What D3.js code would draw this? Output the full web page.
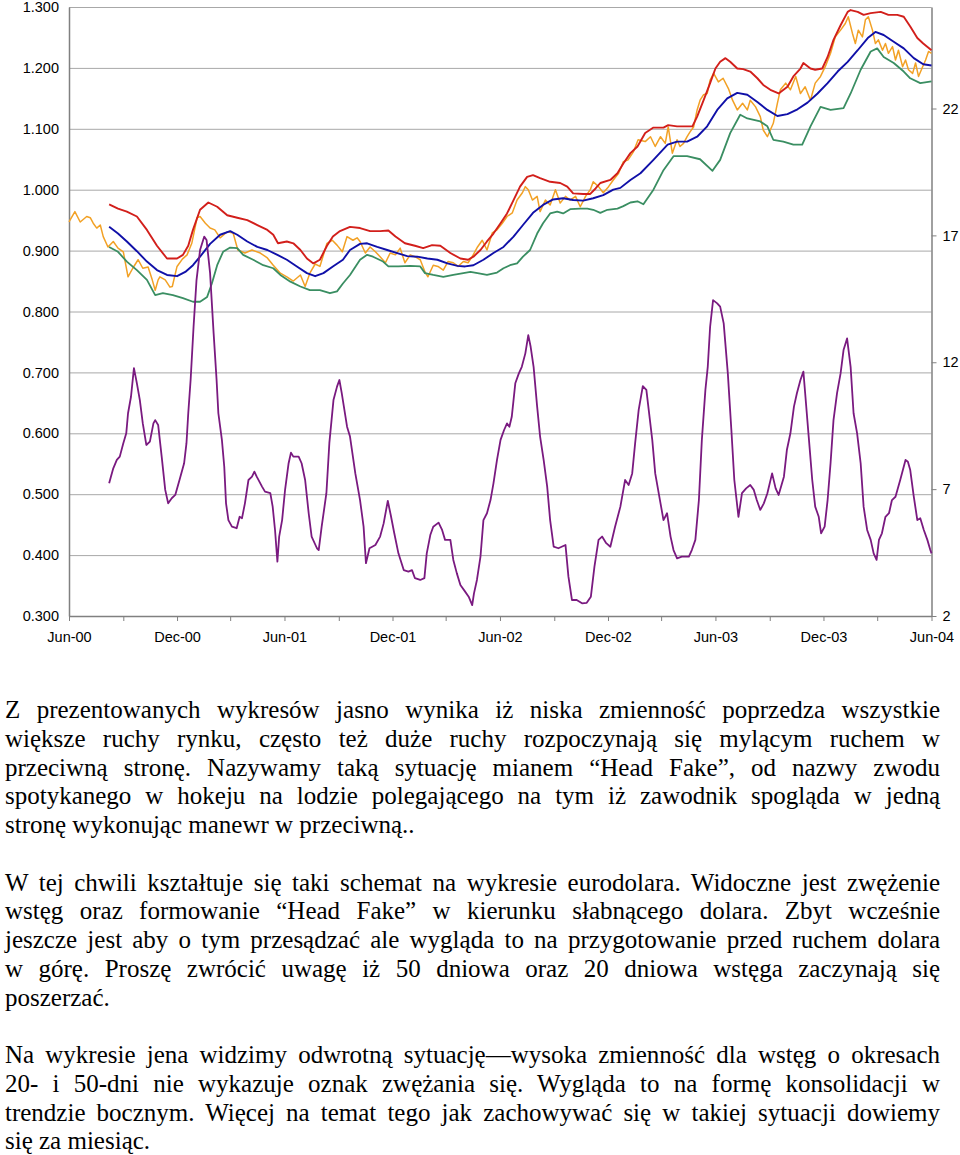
<!DOCTYPE html>
<html><head><meta charset="utf-8">
<script src="https://cdn.jsdelivr.net/npm/d3@7"></script>
<style>
body{margin:0;background:#fff;width:960px;height:1155px;overflow:hidden;position:relative;}
svg{position:absolute;left:0;top:0;}
.ln{position:absolute;left:5px;font-family:"Liberation Serif","Times New Roman",serif;font-size:25px;line-height:28.75px;color:#000;white-space:nowrap;}
</style></head><body>
<svg id="chart" width="960" height="660"></svg>
<div id="txt"></div>
<script>
// ---------- DATA ----------
const startDate = new Date(2000, 5, 1);
const endDate = new Date(2004, 5, 1);
const xTickLabels = ["Jun-00","Dec-00","Jun-01","Dec-01","Jun-02","Dec-02","Jun-03","Dec-03","Jun-04"];
const leftTicks = [0.3,0.4,0.5,0.6,0.7,0.8,0.9,1.0,1.1,1.2,1.3];
const rightTicks = [2,7,12,17,22];

// [days since 1 Jun 2000, value]
const eurusd = [[0,0.947],[10,0.964],[19,0.947],[30,0.956],[36,0.954],[41,0.945],[47,0.937],[53,0.942],[58,0.923],[66,0.906],[75,0.915],[83,0.904],[92,0.898],[100,0.857],[108,0.871],[117,0.885],[125,0.871],[134,0.873],[141,0.852],[146,0.835],[151,0.852],[154,0.857],[163,0.852],[171,0.840],[175,0.841],[183,0.874],[192,0.886],[200,0.893],[208,0.912],[217,0.954],[222,0.956],[231,0.945],[239,0.937],[247,0.934],[256,0.921],[268,0.931],[278,0.929],[286,0.901],[298,0.896],[310,0.901],[324,0.896],[336,0.888],[346,0.876],[358,0.863],[369,0.857],[380,0.850],[392,0.860],[400,0.841],[408,0.863],[417,0.878],[425,0.874],[437,0.912],[446,0.917],[454,0.909],[463,0.898],[471,0.923],[481,0.917],[488,0.921],[493,0.915],[502,0.896],[510,0.906],[519,0.898],[527,0.890],[536,0.880],[544,0.896],[553,0.893],[561,0.904],[569,0.880],[578,0.893],[586,0.890],[595,0.885],[603,0.865],[608,0.857],[617,0.876],[625,0.874],[634,0.868],[642,0.882],[651,0.880],[659,0.874],[668,0.882],[676,0.880],[683,0.890],[692,0.906],[700,0.917],[708,0.901],[717,0.929],[725,0.934],[734,0.945],[742,0.956],[751,0.962],[759,0.983],[768,0.995],[773,1.005],[778,1.000],[785,0.983],[793,0.989],[798,0.964],[807,0.983],[815,0.975],[824,1.000],[832,0.978],[841,0.989],[849,0.983],[858,0.989],[866,0.972],[875,0.989],[883,1.000],[888,1.013],[897,1.005],[905,0.995],[914,1.005],[922,1.016],[931,1.027],[939,1.046],[947,1.049],[956,1.062],[964,1.082],[976,1.079],[985,1.087],[993,1.071],[1002,1.087],[1010,1.076],[1015,1.103],[1022,1.060],[1030,1.082],[1035,1.071],[1041,1.076],[1047,1.087],[1052,1.095],[1058,1.103],[1064,1.131],[1069,1.147],[1075,1.156],[1081,1.158],[1086,1.180],[1092,1.191],[1100,1.177],[1108,1.183],[1117,1.166],[1124,1.147],[1132,1.131],[1141,1.142],[1149,1.131],[1154,1.147],[1163,1.136],[1171,1.120],[1176,1.098],[1183,1.087],[1188,1.098],[1193,1.109],[1200,1.142],[1205,1.164],[1214,1.175],[1222,1.164],[1231,1.186],[1239,1.158],[1247,1.169],[1256,1.147],[1264,1.175],[1273,1.186],[1281,1.202],[1290,1.224],[1298,1.251],[1307,1.262],[1315,1.273],[1320,1.284],[1327,1.257],[1332,1.240],[1337,1.262],[1344,1.251],[1349,1.279],[1354,1.284],[1361,1.262],[1366,1.240],[1371,1.246],[1378,1.229],[1383,1.240],[1388,1.224],[1395,1.235],[1400,1.213],[1405,1.229],[1412,1.202],[1417,1.213],[1422,1.197],[1429,1.191],[1434,1.208],[1439,1.186],[1446,1.202],[1451,1.213],[1456,1.227],[1461,1.224]];

const upperBand = [[68,0.976],[83,0.969],[98,0.964],[115,0.956],[132,0.934],[149,0.908],[166,0.887],[183,0.887],[193,0.893],[202,0.908],[210,0.934],[222,0.967],[236,0.979],[251,0.972],[268,0.958],[285,0.954],[302,0.950],[319,0.942],[336,0.934],[346,0.926],[354,0.912],[369,0.915],[380,0.912],[392,0.901],[403,0.887],[414,0.879],[425,0.885],[437,0.908],[447,0.923],[459,0.932],[476,0.939],[493,0.937],[510,0.932],[527,0.932],[541,0.933],[553,0.923],[569,0.912],[586,0.908],[600,0.904],[615,0.909],[629,0.908],[646,0.896],[663,0.887],[676,0.885],[685,0.890],[697,0.901],[708,0.915],[719,0.928],[731,0.945],[742,0.961],[753,0.983],[764,1.005],[776,1.021],[786,1.024],[798,1.019],[815,1.013],[832,1.011],[844,1.005],[854,0.994],[871,0.993],[883,0.993],[892,1.002],[900,1.011],[917,1.016],[929,1.027],[939,1.043],[951,1.060],[963,1.071],[976,1.093],[990,1.102],[1007,1.102],[1015,1.106],[1030,1.104],[1056,1.104],[1064,1.120],[1075,1.147],[1086,1.175],[1095,1.199],[1103,1.210],[1112,1.216],[1120,1.210],[1132,1.199],[1142,1.198],[1154,1.194],[1166,1.183],[1176,1.172],[1188,1.164],[1202,1.158],[1217,1.169],[1227,1.186],[1239,1.199],[1244,1.208],[1256,1.199],[1264,1.197],[1276,1.199],[1285,1.218],[1295,1.246],[1307,1.270],[1319,1.292],[1324,1.295],[1336,1.292],[1346,1.287],[1358,1.290],[1375,1.292],[1388,1.287],[1403,1.287],[1414,1.284],[1425,1.268],[1437,1.249],[1447,1.240],[1461,1.229]];

const middleBand = [[68,0.939],[83,0.928],[98,0.915],[115,0.899],[132,0.882],[149,0.868],[166,0.860],[183,0.858],[197,0.865],[210,0.876],[222,0.890],[239,0.911],[256,0.926],[273,0.932],[285,0.926],[302,0.915],[319,0.906],[336,0.901],[353,0.893],[369,0.885],[386,0.874],[403,0.863],[417,0.858],[431,0.863],[447,0.874],[464,0.885],[476,0.901],[493,0.911],[505,0.912],[522,0.906],[539,0.901],[556,0.896],[573,0.891],[590,0.890],[607,0.887],[624,0.885],[641,0.879],[658,0.875],[671,0.874],[685,0.876],[702,0.885],[719,0.896],[736,0.906],[753,0.923],[769,0.942],[786,0.962],[803,0.975],[820,0.984],[837,0.986],[854,0.983],[871,0.982],[888,0.986],[905,0.991],[922,1.000],[934,1.003],[951,1.016],[968,1.027],[990,1.049],[1014,1.074],[1030,1.079],[1047,1.079],[1064,1.087],[1081,1.104],[1098,1.131],[1115,1.150],[1132,1.159],[1149,1.156],[1166,1.144],[1183,1.131],[1200,1.121],[1217,1.124],[1234,1.132],[1251,1.143],[1268,1.158],[1285,1.175],[1302,1.194],[1319,1.210],[1336,1.229],[1353,1.249],[1366,1.259],[1380,1.254],[1397,1.243],[1414,1.232],[1431,1.216],[1447,1.206],[1461,1.204]];

const lowerBand = [[68,0.906],[83,0.898],[98,0.882],[115,0.868],[132,0.852],[146,0.827],[159,0.830],[176,0.827],[193,0.822],[210,0.816],[222,0.816],[234,0.824],[242,0.846],[251,0.876],[261,0.898],[273,0.905],[285,0.904],[295,0.893],[312,0.885],[329,0.876],[346,0.871],[358,0.860],[375,0.849],[392,0.841],[408,0.835],[425,0.835],[442,0.830],[454,0.833],[464,0.846],[476,0.860],[493,0.885],[505,0.893],[515,0.890],[532,0.882],[541,0.874],[558,0.874],[578,0.875],[595,0.874],[603,0.863],[617,0.860],[634,0.857],[651,0.860],[668,0.863],[680,0.865],[692,0.863],[708,0.860],[725,0.864],[736,0.871],[747,0.876],[759,0.879],[769,0.890],[781,0.901],[793,0.928],[803,0.945],[815,0.961],[827,0.964],[837,0.961],[849,0.968],[866,0.969],[878,0.969],[888,0.967],[900,0.962],[912,0.967],[929,0.969],[939,0.973],[951,0.979],[963,0.981],[973,0.976],[990,1.000],[1007,1.032],[1024,1.055],[1047,1.055],[1069,1.050],[1090,1.031],[1103,1.049],[1120,1.093],[1137,1.123],[1149,1.117],[1171,1.112],[1183,1.104],[1193,1.082],[1210,1.079],[1227,1.074],[1242,1.074],[1256,1.104],[1273,1.136],[1290,1.131],[1312,1.134],[1324,1.158],[1341,1.197],[1358,1.227],[1369,1.232],[1380,1.218],[1397,1.208],[1414,1.194],[1425,1.183],[1442,1.175],[1461,1.178]];

// band width, right axis
const bandWidth = [[68,7.23],[71,7.49],[75,7.82],[81,8.15],[86,8.28],[92,8.81],[97,9.20],[100,9.99],[105,10.64],[110,11.77],[115,11.17],[120,10.51],[125,9.59],[131,8.74],[137,8.87],[143,9.59],[146,9.72],[151,9.53],[157,8.28],[163,6.97],[168,6.44],[174,6.64],[180,6.77],[188,7.43],[195,8.02],[199,8.81],[202,9.99],[206,11.30],[211,13.40],[216,15.24],[222,16.42],[229,16.95],[233,16.82],[239,15.51],[245,13.14],[250,11.30],[253,9.99],[259,8.94],[263,7.88],[266,6.44],[270,5.78],[276,5.52],[284,5.46],[289,5.91],[293,5.85],[298,6.44],[304,7.36],[310,7.49],[314,7.69],[318,7.49],[327,7.10],[332,6.90],[341,6.84],[345,6.31],[349,5.39],[353,4.14],[356,5.13],[361,5.78],[366,6.97],[372,8.02],[376,8.44],[380,8.28],[389,8.28],[394,8.02],[400,7.36],[406,6.05],[411,5.13],[420,4.67],[423,4.60],[428,5.52],[436,6.84],[441,8.81],[448,10.51],[454,11.04],[458,11.30],[462,10.78],[471,9.46],[476,9.07],[485,7.62],[493,6.57],[499,5.52],[503,4.08],[509,4.67],[519,4.80],[527,5.13],[533,5.65],[540,6.54],[545,5.98],[551,5.26],[558,4.47],[567,3.81],[575,3.75],[581,3.81],[586,3.49],[595,3.42],[602,3.49],[606,4.47],[612,5.19],[617,5.52],[626,5.68],[632,5.39],[637,5.00],[646,5.00],[651,4.21],[657,3.68],[663,3.22],[671,2.96],[677,2.76],[683,2.43],[686,2.89],[691,3.42],[697,4.34],[702,5.78],[708,6.05],[714,6.57],[719,7.23],[725,8.15],[731,8.94],[737,9.33],[742,9.59],[746,9.46],[750,9.85],[756,11.17],[762,11.56],[767,11.82],[773,12.35],[778,13.07],[782,12.61],[787,11.82],[793,10.25],[798,9.07],[804,8.15],[810,7.10],[815,5.78],[821,4.73],[829,4.67],[841,4.80],[846,3.55],[852,2.63],[860,2.63],[869,2.50],[877,2.52],[884,2.76],[890,3.94],[897,5.00],[903,5.13],[910,4.87],[917,4.73],[925,5.52],[934,6.31],[942,7.36],[948,7.16],[954,7.62],[959,8.81],[965,10.12],[972,11.06],[978,10.91],[982,10.12],[988,8.94],[993,7.62],[1001,6.57],[1007,5.78],[1013,6.05],[1019,5.13],[1024,4.60],[1030,4.27],[1038,4.34],[1050,4.34],[1055,4.60],[1061,5.00],[1067,6.57],[1072,8.94],[1078,10.91],[1082,11.82],[1086,13.40],[1091,14.45],[1098,14.32],[1103,14.19],[1109,13.53],[1116,11.56],[1122,9.33],[1127,7.36],[1134,5.91],[1140,6.84],[1147,7.03],[1154,7.16],[1160,6.97],[1165,6.57],[1171,6.18],[1177,6.44],[1183,6.84],[1191,7.62],[1197,7.03],[1202,6.77],[1211,7.49],[1216,8.54],[1222,9.20],[1228,10.25],[1233,10.78],[1239,11.30],[1244,11.63],[1247,10.78],[1253,9.07],[1259,7.36],[1264,6.31],[1270,5.91],[1274,5.26],[1280,5.52],[1285,6.57],[1290,8.02],[1295,9.72],[1301,10.78],[1307,11.56],[1312,12.48],[1318,12.94],[1324,11.82],[1329,9.99],[1335,9.20],[1341,8.02],[1346,6.31],[1352,5.39],[1358,5.00],[1363,4.47],[1368,4.21],[1372,5.00],[1377,5.26],[1383,5.91],[1389,6.05],[1394,6.57],[1400,6.70],[1408,7.36],[1417,8.15],[1421,8.08],[1425,7.75],[1431,6.70],[1437,5.78],[1442,5.85],[1448,5.39],[1454,5.00],[1459,4.60],[1461,4.47]];

const textLines = [
 {t:"Z prezentowanych wykresów jasno wynika iż niska zmienność poprzedza wszystkie", j:true},
 {t:"większe ruchy rynku, często też duże ruchy rozpoczynają się mylącym ruchem w", j:true},
 {t:"przeciwną stronę. Nazywamy taką sytuację mianem “Head Fake”, od nazwy zwodu", j:true},
 {t:"spotykanego w hokeju na lodzie polegającego na tym iż zawodnik spogląda w jedną", j:true},
 {t:"stronę wykonując manewr w przeciwną..", j:false},
 {t:"", j:false},
 {t:"W tej chwili kształtuje się taki schemat na wykresie eurodolara. Widoczne jest  zwężenie", j:true},
 {t:"wstęg oraz formowanie “Head Fake” w kierunku słabnącego dolara. Zbyt wcześnie", j:true},
 {t:"jeszcze jest aby o tym przesądzać ale wygląda to na przygotowanie przed ruchem dolara", j:true},
 {t:"w górę.  Proszę zwrócić uwagę iż 50 dniowa oraz 20 dniowa wstęga zaczynają się", j:true},
 {t:"poszerzać.", j:false},
 {t:"", j:false},
 {t:"Na wykresie jena widzimy odwrotną sytuację—wysoka zmienność dla wstęg o okresach", j:true},
 {t:"20- i 50-dni nie wykazuje oznak zwężania się. Wygląda to na formę konsolidacji w", j:true},
 {t:"trendzie bocznym. Więcej na temat tego jak zachowywać się w takiej sytuacji dowiemy", j:true},
 {t:"się za miesiąc.", j:false}
];

// ---------- CHART ----------
const L = 69, R = 931.5, T = 7, B = 616;
const svg = d3.select("#chart");
const x = d3.scaleTime().domain([startDate, endDate]).range([L, R]);
const yL = d3.scaleLinear().domain([0.3, 1.3]).range([B, T]);
const yR = d3.scaleLinear().domain([2, 26]).range([B, T]);
const dayDate = d => d3.timeDay.offset(startDate, d);

const font = '"Liberation Sans", Arial, sans-serif';

// gridlines
const grid = svg.append("g").attr("transform", `translate(${L},0)`)
  .call(d3.axisLeft(yL).tickValues(leftTicks).tickSize(-(R - L)).tickFormat(""));
grid.select(".domain").remove();
grid.selectAll("line").attr("stroke", "#a8a8a8").attr("stroke-width", 1);

// left axis
const ax = svg.append("g").attr("transform", `translate(${L},0)`)
  .call(d3.axisLeft(yL).tickValues(leftTicks).tickSize(0).tickPadding(10).tickFormat(d3.format(".3f")));
ax.select(".domain").attr("stroke", "#808080").attr("stroke-width", 1.5);
ax.selectAll("text").attr("font-family", font).attr("font-size", "14.5px").attr("fill", "#000");

// right axis
const ar = svg.append("g").attr("transform", `translate(${R},0)`)
  .call(d3.axisRight(yR).tickValues(rightTicks).tickSize(5).tickSizeOuter(0).tickPadding(6));
ar.select(".domain").attr("stroke", "#808080").attr("stroke-width", 1.5);
ar.selectAll("line").attr("stroke", "#808080");
ar.selectAll("text").attr("font-family", font).attr("font-size", "14.5px").attr("fill", "#000");

// bottom axis
const tickDates = d3.timeMonth.range(startDate, d3.timeMonth.offset(endDate, 1), 3);
const ab = svg.append("g").attr("transform", `translate(0,${B})`)
  .call(d3.axisBottom(x).tickValues(tickDates).tickSize(5).tickSizeOuter(0).tickPadding(11)
    .tickFormat((d, i) => i % 2 === 0 ? xTickLabels[i / 2] : ""));
ab.select(".domain").attr("stroke", "#808080").attr("stroke-width", 1.5);
ab.selectAll("line").attr("stroke", "#808080");
ab.selectAll("text").attr("font-family", font).attr("font-size", "14.5px").attr("fill", "#000");

const lineL = d3.line().x(d => x(dayDate(d[0]))).y(d => yL(d[1]));
const lineR = d3.line().x(d => x(dayDate(d[0]))).y(d => yR(d[1]));
const series = [
  {data: eurusd, color: "#F2A125", w: 1.5, gen: lineL},
  {data: upperBand, color: "#D21F1B", w: 1.9, gen: lineL},
  {data: lowerBand, color: "#3A8E62", w: 1.8, gen: lineL},
  {data: middleBand, color: "#1010A8", w: 1.9, gen: lineL},
  {data: bandWidth, color: "#7A1A80", w: 1.8, gen: lineR}
];
svg.append("g").selectAll("path").data(series).join("path")
  .attr("d", s => s.gen(s.data))
  .attr("fill", "none")
  .attr("stroke", s => s.color)
  .attr("stroke-width", s => s.w)
  .attr("stroke-linejoin", "round");

// ---------- TEXT ----------
const TXT_TOP = 696, LH = 28.75, TXT_W = 935;
const holder = d3.select("#txt");
textLines.forEach((ln, i) => {
  if (!ln.t) return;
  const div = holder.append("div").attr("class", "ln")
    .style("top", (TXT_TOP + i * LH) + "px").text(ln.t.replace(/\s+/g, " "));
  if (ln.j) {
    const w = div.node().getBoundingClientRect().width;
    const n = (ln.t.replace(/\s+/g, " ").match(/ /g) || []).length;
    if (n > 0) div.style("word-spacing", ((TXT_W - w) / n) + "px");
  }
});
</script>
</body></html>
